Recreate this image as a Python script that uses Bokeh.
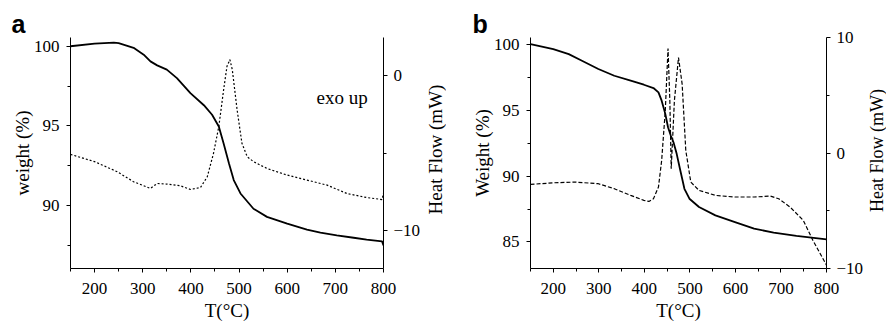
import math
from bokeh.plotting import figure
from bokeh.models import Range1d, LinearAxis, FixedTicker, Label, Title
from bokeh.layouts import row
from bokeh.embed import file_html
from bokeh.resources import INLINE

# ---------------- data ----------------
# panel a: weight (%) – solid
temp_a_w = [150, 200, 240, 250, 281, 302, 316, 330, 350, 371, 399, 427, 444, 458,
            468, 479, 489, 503, 530, 558, 600, 641, 669, 703, 738, 765, 797, 800]
weight_a = [100.0, 100.17, 100.23, 100.2, 99.9, 99.47, 99.05, 98.8, 98.53, 98.0,
            97.06, 96.3, 95.7, 94.96, 93.9, 92.65, 91.6, 90.76, 89.8, 89.29, 88.87,
            88.49, 88.3, 88.13, 87.98, 87.86, 87.75, 87.5]
# panel a: heat flow (mW) – dotted
temp_a_hf = [150, 200, 247, 281, 316, 330, 350, 378, 399, 420, 434, 447, 458, 468,
             475, 481, 486, 496, 506, 517, 530, 558, 600, 641, 683, 724, 765, 797, 800]
heat_a = [-5.09, -5.56, -6.21, -6.86, -7.29, -6.97, -7.01, -7.12, -7.36, -7.23,
          -6.54, -5.02, -3.29, -0.91, 0.61, 1.04, 0.39, -2.21, -4.37, -5.24, -5.56,
          -6.0, -6.43, -6.75, -7.08, -7.62, -7.88, -8.01, -7.6]

# panel b: weight (%) – solid
temp_b_w = [150, 200, 234, 263, 299, 334, 370, 399, 420, 431, 438, 446, 452, 458,
            464, 471, 479, 488, 499, 520, 556, 599, 641, 684, 734, 800]
weight_b = [100.0, 99.62, 99.24, 98.74, 98.11, 97.6, 97.23, 96.92, 96.67, 96.34,
            95.71, 94.71, 93.7, 93.07, 92.56, 91.68, 90.42, 89.03, 88.28, 87.65,
            87.02, 86.51, 86.01, 85.71, 85.46, 85.2]
# panel b: heat flow (mW) – dashed
temp_b_hf = [150, 200, 249, 299, 334, 370, 399, 410, 420, 431, 438, 446, 452, 456,
             459, 466, 475, 483, 491, 502, 520, 556, 599, 641, 677, 695, 720, 749,
             770, 800]
heat_b = [-2.72, -2.58, -2.52, -2.66, -3.09, -3.67, -4.1, -4.19, -3.96, -2.95,
          -0.65, 3.67, 9.05, 4.53, -1.37, 4.53, 8.27, 5.97, 0.22, -2.52, -3.24,
          -3.67, -3.81, -3.81, -3.73, -3.96, -4.68, -5.83, -7.55, -9.71]

x_ticks = [200, 300, 400, 500, 600, 700, 800]
x_minor = [150, 250, 350, 450, 550, 650, 750]
wa_ticks = [90, 95, 100]
wa_minor = [87.5, 92.5, 97.5]
ha_ticks = [-10, 0]
ha_minor = [-5]
wb_ticks = [85, 90, 95, 100]
wb_minor = [87.5, 92.5, 97.5]
hb_ticks = [-10, 0, 10]
hb_minor = [-5, 5]
hf_title = "Heat Flow (mW)"

SERIF = "Liberation Serif"
H = 328


def style_axis(ax):
    ax.axis_line_color = "black"
    ax.axis_line_width = 1
    ax.major_tick_line_color = "black"
    ax.minor_tick_line_color = "black"
    ax.major_tick_in = 0
    ax.major_tick_out = 4
    ax.minor_tick_in = 0
    ax.minor_tick_out = 3
    ax.major_label_text_font = SERIF
    ax.major_label_text_font_size = "17px"
    ax.major_label_text_color = "black"
    ax.major_label_standoff = 7
    ax.axis_label_text_font = SERIF
    ax.axis_label_text_font_size = "19px"
    ax.axis_label_text_font_style = "normal"
    ax.axis_label_text_color = "black"
    ax.axis_label_standoff = 2


def panel(letter, tw, w, th, h, wrange, hrange, wt, wm, ht, hm, wlabel, dash,
          bl, br, frame_w):
    p = figure(width=bl + frame_w + br, height=H,
               x_range=Range1d(150, 800), y_range=Range1d(*wrange),
               output_backend="svg", toolbar_location=None,
               min_border_left=bl, min_border_right=br,
               min_border_top=37, min_border_bottom=60)
    p.outline_line_color = None
    p.grid.visible = False
    p.background_fill_color = "white"
    p.border_fill_color = "white"
    p.extra_y_ranges = {"hf": Range1d(*hrange)}
    rax = LinearAxis(y_range_name="hf")
    p.add_layout(rax, "right")

    p.xaxis.ticker = FixedTicker(ticks=x_ticks, minor_ticks=x_minor)
    p.yaxis[0].ticker = FixedTicker(ticks=wt, minor_ticks=wm)
    rax.ticker = FixedTicker(ticks=ht, minor_ticks=hm)
    for ax in p.axis:
        style_axis(ax)
    p.xaxis.axis_label = "T(°C)"
    p.xaxis.major_label_standoff = 10
    p.xaxis.axis_label_standoff = 3
    p.yaxis[0].axis_label = wlabel
    p.yaxis[0].axis_label_standoff = -2
    rax.major_label_standoff = 6

    p.line(th, h, y_range_name="hf", line_color="black", line_width=1.2,
           line_dash=dash)
    p.line(tw, w, line_color="black", line_width=1.8)

    p.add_layout(Title(text=letter, align="left", offset=-59 if letter == "a" else -58,
                       text_font="Liberation Sans", text_font_style="bold",
                       text_font_size="25px", text_color="black", standoff=0),
                 "above")
    return p


def side_title(width, cx, cy, size):
    """narrow strip holding the right-hand axis title (reads bottom to top);
    the row aligns its frame with the neighbouring plot frame (y 37..268)"""
    s = figure(width=width, height=H, x_range=Range1d(0, 1), y_range=Range1d(0, 1),
               output_backend="svg", toolbar_location=None,
               x_axis_location=None, y_axis_location=None,
               min_border=0, min_border_left=0, min_border_right=0,
               min_border_top=0, min_border_bottom=0)
    s.outline_line_color = None
    s.grid.visible = False
    s.background_fill_color = "white"
    s.border_fill_color = "white"
    s.add_layout(Label(x=cx, y=cy, x_units="screen", y_units="screen",
                       text=hf_title, angle=math.pi / 2, text_font=SERIF,
                       text_font_size=size, text_color="black",
                       text_align="center", text_baseline="middle"))
    return s


pa = panel("a", temp_a_w, weight_a, temp_a_hf, heat_a, (86.05, 100.55),
           (-12.47, 2.47), wa_ticks, wa_minor, ha_ticks, ha_minor,
           "weight (%)", "2 2", 70, 41, 313)
pa.add_layout(Label(x=246, y=171, x_units="screen", y_units="screen",
                    text="exo up", text_font=SERIF, text_font_size="19px",
                    text_color="black", text_align="left",
                    text_baseline="alphabetic"))
la = side_title(22, 11, 119, "19px")

pb = panel("b", temp_b_w, weight_b, temp_b_hf, heat_b, (82.99, 100.5),
           (-10, 10), wb_ticks, wb_minor, hb_ticks, hb_minor,
           "Weight (%)", "4 2", 84, 34, 302)
lb = side_title(20, 10, 118, "18px")

layout = row(pa, la, pb, lb)
open("out.html", "w").write(file_html(layout, INLINE))
